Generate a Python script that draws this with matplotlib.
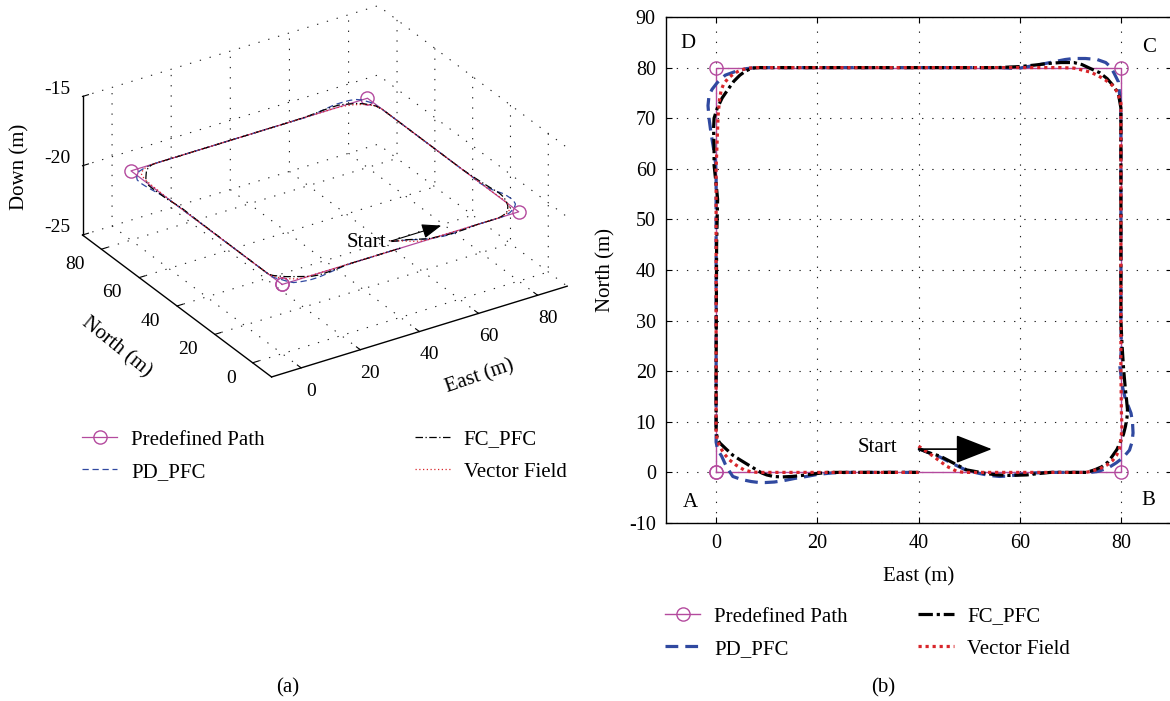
import numpy as np
import matplotlib
matplotlib.use("Agg")
import matplotlib.pyplot as plt
from mpl_toolkits.mplot3d import proj3d

plt.rcParams['font.family'] = ['Liberation Serif', 'DejaVu Serif']
plt.rcParams['font.size'] = 14
plt.rcParams['axes.unicode_minus'] = False
plt.rcParams['grid.linestyle'] = (0, (1.2, 8))
plt.rcParams['grid.color'] = '#222222'
plt.rcParams['grid.linewidth'] = 0.8

# ---- data (East, North in metres) ----
pred_e = [0, 80, 80, 0, 0]
pred_n = [0, 0, 80, 80, 0]

pd_e = [40, 42, 44.3, 46.8, 49.5, 52, 54, 56, 58, 60, 63, 66, 74, 75.5, 77.5, 79.1, 80.5, 81.7,
        82.2, 82.4, 82.3, 82, 81.5, 80.9, 80.3, 79.8, 80.1, 80, 80, 79.9, 79.5, 78.7, 78, 77,
        75.3, 73, 70.7, 69, 67, 64, 61, 59.6, 56, 10, 8, 6, 4, 1.8, 0.2, -0.8, -1.4, -1.6, -1.4,
        -1, -0.5, -0.1, 0, 0, 0, 0.3, 1.1, 2, 3.3, 5, 6.9, 8.5, 9.8, 11.5, 13.5, 15.5, 17.9, 20,
        23, 26, 40]
pd_n = [4.7, 3.9, 3.0, 1.7, 0.4, -0.2, -0.6, -0.8, -0.7, -0.4, -0.1, 0, 0, 0.2, 0.9, 1.9, 3,
        4.4, 6, 7.8, 9.8, 11.7, 13, 14.4, 17, 20.9, 24.5, 30, 70, 73, 77.2, 78.8, 80.1, 81, 81.6,
        81.8, 81.8, 81.6, 81.2, 80.6, 80.1, 79.8, 80, 80, 80, 79.8, 79.3, 78.5, 77, 75.7, 74.5,
        72.5, 70, 67, 64, 61, 58, 20, 6, 4.5, 3.2, 1.2, -0.8, -1.4, -1.8, -2, -2, -1.9, -1.6,
        -1.2, -0.8, -0.4, -0.1, 0, 0]

fc_e = [40, 42, 44.3, 46.8, 49.5, 52.2, 54, 55.5, 58, 61.4, 64, 66, 73.2, 74.8, 76.2, 77.4,
        78.3, 79.2, 79.8, 80.5, 80.9, 81.2, 81.3, 81.1, 80.9, 80.7, 80.5, 80.2, 80, 80, 79.5,
        78.5, 77.3, 75.8, 74, 72.3, 70.7, 68.1, 65.5, 63, 60, 55.7, 10, 8.5, 7.1, 5.8, 4.7, 3.5,
        2.5, 1.2, 0.2, -0.4, -0.5, -0.4, -0.4, 0, 0.3, 0.1, 0, 0, 0.3, 0.75, 2, 3.3, 4.7, 6.5,
        8, 9, 10, 11.3, 13, 15, 17, 19.3, 22, 40]
fc_n = [4.7, 3.9, 3.2, 1.9, 0.5, 0, -0.3, -0.5, -0.6, -0.5, -0.2, 0, 0, 0.5, 1.1, 2, 3.2, 4.5,
        5.8, 7.5, 9.1, 10.8, 12.4, 14.5, 16.3, 18.5, 20.9, 25.6, 30, 72, 74.9, 76.4, 77.8, 79,
        79.8, 80.6, 81, 81, 80.8, 80.5, 80.2, 80, 80, 80, 79.9, 79.3, 78.5, 77.3, 75.9, 74, 71.9,
        70, 68, 64, 60.7, 57, 54, 45, 20, 8, 6.5, 5.8, 4.6, 3.4, 2.5, 1.4, 0.5, -0.1, -0.5,
        -0.8, -0.9, -0.8, -0.6, -0.3, 0, 0]

vf_e = [40, 42.9, 45.6, 47.6, 49, 73, 74, 75.8, 77.3, 78.4, 79.1, 79.7, 79.9, 80.1, 80.2, 80.1,
        80, 80, 80, 79.3, 78.3, 77, 75.5, 74, 72, 70.7, 68, 10, 8, 6.4, 4.8, 3.5, 2.4, 1.5, 1,
        0.7, 0.4, 0.3, 0, 0, 0.2, 0.75, 1.5, 2.6, 4, 5.5, 7, 8.4, 40]
vf_n = [5.2, 3.2, 1.2, 0.2, 0, 0, 0.2, 0.7, 1.5, 2.4, 3.3, 4.6, 5.8, 7.5, 9, 12, 20, 60, 73,
        75.2, 76.5, 77.5, 78.4, 79.1, 79.6, 79.9, 80, 80, 80, 79.9, 79.5, 78.8, 77.9, 76.8, 75.5,
        73.9, 70.6, 68, 60, 8, 6.5, 5.1, 3.8, 2.5, 1.4, 0.5, 0.1, 0, 0]

altitude = -20            # flight level (Down axis)
start_e, start_n = 40, 4.6
arrow_len = 14.5

labels = ['Predefined Path', 'PD_PFC', 'FC_PFC', 'Vector Field']
c_pred = '#b44a9e'
c_pd = '#3049a0'
c_fc = 'black'
c_vf = '#d8262b'

W, H = 1170, 701
fig = plt.figure(figsize=(W / 100, H / 100), dpi=100)

# ================= (a) 3D view =================
side0 = 400.0
ax3 = fig.add_axes([50 / W, 250 / H, side0 / W, side0 / H], projection='3d')
ax3.set_proj_type('ortho')
ax3.view_init(elev=28.7, azim=-122.6)
ax3.set_box_aspect((1, 1, 0.45))
ax3.set_xlim(-10, 90)
ax3.set_ylim(-10, 90)
ax3.set_zlim(-25, -15)
ax3.set_xticks([0, 20, 40, 60, 80])
ax3.set_yticks([0, 20, 40, 60, 80])
ax3.set_zticks([-25, -20, -15])

# move/scale the square 3d axes so the box lands where it is in the picture
def to_px(x, y, z):
    px, py, _ = proj3d.proj_transform(x, y, z, ax3.get_proj())
    return ax3.transData.transform((px, py))

d1 = to_px(-10, 90, -25)
d3 = to_px(90, -10, -25)
t1 = np.array([82.5, H - 235])
t3 = np.array([567, H - 288])
k = np.linalg.norm(t1 - t3) / np.linalg.norm(d1 - d3)
side = side0 * k
c0 = np.array([50 + side0 / 2, 250 + side0 / 2])
cen = t1 - side * (d1 - c0) / side0
ax3.set_position([(cen[0] - side / 2) / W, (cen[1] - side / 2) / H, side / W, side / H])

for axis in (ax3.xaxis, ax3.yaxis, ax3.zaxis):
    axis.set_pane_color((1, 1, 1, 0))
    axis.pane.set_edgecolor((1, 1, 1, 0))
    axis.line.set_linewidth(1.0)
    axis._axinfo['tick']['inward_factor'] = 0.0
    axis._axinfo['tick']['outward_factor'] = 0.25
ax3.tick_params(axis='x', pad=2)
ax3.tick_params(axis='y', pad=3)
ax3.tick_params(axis='z', pad=2)
for t in ax3.get_zticklabels():
    t.set_va('baseline')
for t in ax3.get_yticklabels():
    t.set_ha('right')
    t.set_va('center_baseline')

z_pd = [altitude] * len(pd_e)
z_fc = [altitude] * len(fc_e)
z_vf = [altitude] * len(vf_e)
z_pred = [altitude] * len(pred_e)
h1, = ax3.plot(pred_e, pred_n, z_pred, color=c_pred, lw=0.9, marker='o', ms=9.5,
               mfc='none', mec=c_pred, mew=1.0)
h2, = ax3.plot(pd_e, pd_n, z_pd, color=c_pd, lw=0.9, ls=(0, (5, 3)))
h3, = ax3.plot(fc_e, fc_n, z_fc, color=c_fc, lw=0.9, ls=(0, (6, 2, 1, 2)))
h4, = ax3.plot(vf_e, vf_n, z_vf, color=c_vf, lw=0.9, ls=(0, (1, 2)))

# axis titles of the 3d box, placed like the MATLAB export
fig.text(480 / W, 1 - 377 / H, 'East (m)', rotation=19, rotation_mode='anchor',
         ha='center', va='center', fontsize=15)
fig.text(116 / W, 1 - 347 / H, 'North (m)', rotation=-39, rotation_mode='anchor',
         ha='center', va='center', fontsize=15)
fig.text(20 / W, 1 - 167 / H, 'Down (m)', rotation=90, rotation_mode='anchor',
         ha='center', va='center', fontsize=15)

# start arrow, in projected coordinates
ta = proj3d.proj_transform(start_e, 5, altitude, ax3.get_proj())
tb = proj3d.proj_transform(start_e + 17, 5, altitude, ax3.get_proj())
ax3.annotate('', xy=(tb[0], tb[1]), xytext=(ta[0], ta[1]),
             arrowprops=dict(arrowstyle='-|>,head_length=12,head_width=4.5', mutation_scale=1,
                             color='k', lw=0.8, shrinkA=0, shrinkB=0))
ax3.text(start_e - 1.5, 5, altitude, 'Start', ha='right', va='center', fontsize=15)

fig.legend([h1, h2, h3, h4], labels, ncol=2, loc='upper left',
           bbox_to_anchor=(82 / W, 1 - 430 / H), frameon=False, borderpad=0,
           borderaxespad=0, handlelength=1.7, handletextpad=0.65, columnspacing=7.2,
           labelspacing=0.6, fontsize=15)

# ================= (b) top view =================
ax = fig.add_axes([665.5 / W, 178 / H, 506 / W, 506 / H])
ax.set_xlim(-10, 90)
ax.set_ylim(-10, 90)
ax.set_xticks([0, 20, 40, 60, 80])
ax.set_yticks(np.arange(-10, 91, 10))
ax.grid(True)
ax.tick_params(direction='in', top=True, right=True, length=4, labelsize=14.5)
ax.tick_params(axis='x', pad=8)
ax.tick_params(axis='y', pad=7)
for sp in ax.spines.values():
    sp.set_linewidth(1.0)

g1, = ax.plot(pred_e, pred_n, color=c_pred, lw=1.0, marker='o', ms=9.5, mfc='none',
              mec=c_pred, mew=1.0, zorder=3)
g2, = ax.plot(pd_e, pd_n, color=c_pd, lw=2.3, ls=(0, (4, 2.2)), zorder=4)
g3, = ax.plot(fc_e, fc_n, color=c_fc, lw=2.3, ls=(0, (4.5, 1.2, 1, 1.2)), zorder=5)
g4, = ax.plot(vf_e, vf_n, color=c_vf, lw=2.3, ls=(0, (1, 1.2)), zorder=6)

ax.annotate('', xy=(start_e + arrow_len, start_n), xytext=(start_e, start_n),
            arrowprops=dict(arrowstyle='-|>,head_length=23,head_width=9', mutation_scale=1,
                            color='k', lw=1.2, shrinkA=0, shrinkB=0), zorder=7)
ax.text(35.8, 5.0, 'Start', ha='right', va='center', fontsize=15)
for name, x, y in [('A', -5, -6), ('B', 85.5, -5.5), ('C', 85.5, 84), ('D', -5.5, 84.8)]:
    ax.text(x, y, name, ha='center', va='center', fontsize=15)

ax.set_xlabel('East (m)', fontsize=15, labelpad=10)
ax.set_ylabel('North (m)', fontsize=15, labelpad=10)

fig.legend([g1, g2, g3, g4], labels, ncol=2, loc='upper left',
           bbox_to_anchor=(665 / W, 1 - 607 / H), frameon=False, borderpad=0,
           borderaxespad=0, handlelength=1.7, handletextpad=0.65, columnspacing=3.4,
           labelspacing=0.6, fontsize=15)

fig.text(288 / W, 1 - 688 / H, '(a)', ha='center', va='center', fontsize=15)
fig.text(883 / W, 1 - 688 / H, '(b)', ha='center', va='center', fontsize=15)

fig.savefig('out.png', dpi=100)
